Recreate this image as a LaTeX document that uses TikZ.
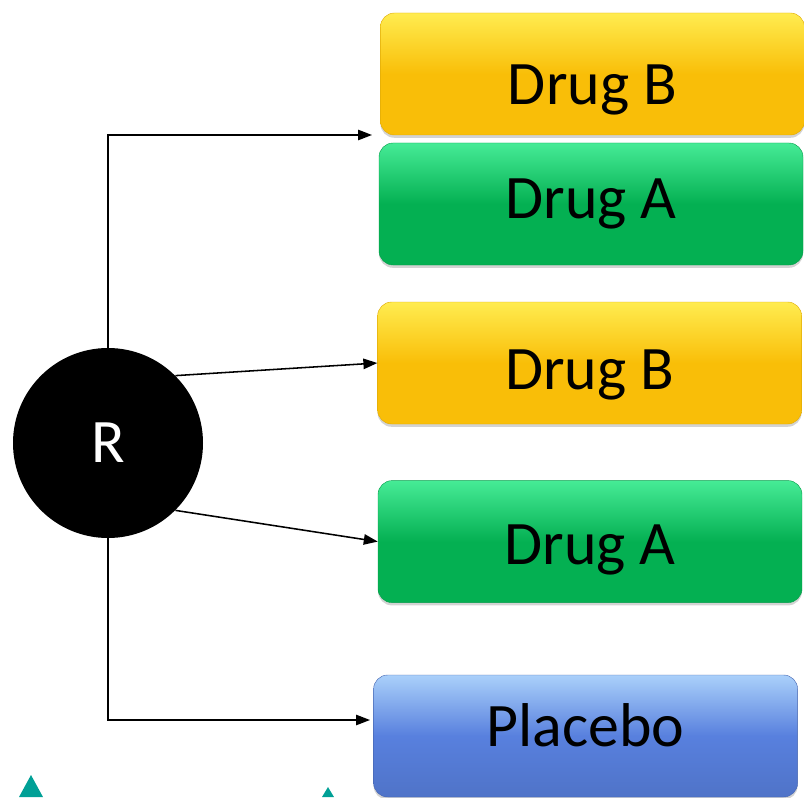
\documentclass[tikz,border=0pt]{standalone}
\usepackage{fontspec}
\setmainfont{Carlito}
\usetikzlibrary{arrows.meta,shadows}
\definecolor{ylw}{RGB}{249,190,8}
\definecolor{ylwtop}{RGB}{255,236,80}
\definecolor{grn}{RGB}{4,176,82}
\definecolor{grntop}{RGB}{70,235,150}
\definecolor{blu}{RGB}{88,128,222}
\definecolor{blutop}{RGB}{170,208,250}
\definecolor{teal1}{RGB}{0,160,150}
\newcommand{\shifttxt}[2]{\raisebox{#1}[\height][\depth]{#2}}
\tikzset{
  box/.style={rounded corners=10pt, minimum width=10.6cm, minimum height=3.05cm, inner sep=0pt,
    font=\fontsize{44}{48}\selectfont, drop shadow={opacity=0.35, shadow xshift=0pt, shadow yshift=-2pt}},
  drugb/.style={box, top color=ylwtop, bottom color=ylw, middle color=ylw, draw=ylw!90!black, line width=0.3pt},
  druga/.style={box, top color=grntop, bottom color=grn, middle color=grn, draw=grn!90!black, line width=0.3pt},
  plac/.style={box, top color=blutop, bottom color=blu!90!black, middle color=blu, draw=blu!80!black, line width=0.3pt},
  rnd/.style={circle, fill=black, minimum size=4.75cm, text=white, font=\fontsize{44}{48}\selectfont},
  arr/.style={-{Triangle[length=3.5mm, width=2.6mm]}, line width=1.1pt}}
\begin{document}
\begin{tikzpicture}
  \useasboundingbox (0,0) rectangle (20.1,-19.925);
  \node[drugb] (bTop) at (14.81,-1.85) {\shifttxt{-0.4cm}{Drug B}};
  \node[druga] (aTop) at (14.775,-5.1) {Drug A};
  \node[drugb] (bMid) at (14.74,-9.075) {\shifttxt{-0.3cm}{Drug B}};
  \node[druga] (aMid) at (14.75,-13.54) {\shifttxt{-0.2cm}{Drug A}};
  \node[plac] (plc) at (14.64,-18.4) {\shifttxt{0.275cm}{Placebo}};
  \node[rnd] (R) at (2.7,-11.075) {R};
  \coordinate (combo) at (9.3,-3.375);
  \coordinate (toPlc) at (9.25,-18.0);
  \draw[arr] (R.north) |- (combo);
  \draw[arr] (R.45) -- (bMid.west);
  \draw[arr] (R.-45) -- (aMid.west);
  \draw[arr] (R.south) |- (toPlc);
  \fill[teal1] (0.475,-19.925) -- (0.775,-19.375) -- (1.075,-19.925) -- cycle;
  \fill[teal1] (8.05,-19.925) -- (8.2,-19.675) -- (8.35,-19.925) -- cycle;
\end{tikzpicture}
\end{document}
